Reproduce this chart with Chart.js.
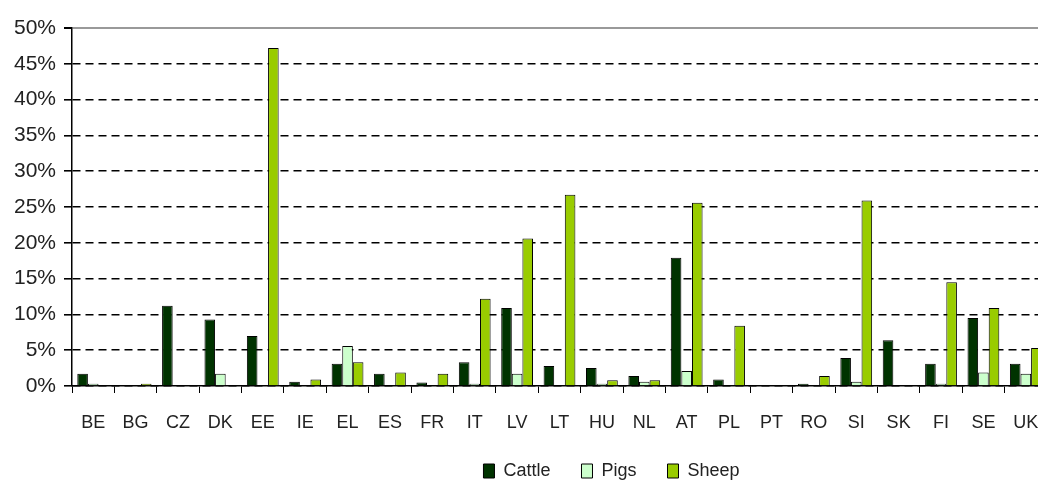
<!DOCTYPE html>
<html>
<head>
<meta charset="utf-8">
<script src="https://cdn.jsdelivr.net/npm/chart.js@4/dist/chart.umd.min.js"></script>
<style>
  html, body { margin:0; padding:0; background:#fff; overflow:hidden; }
  #wrap { width:1222px; height:483px; }
</style>
</head>
<body>
<div id="wrap"><canvas id="chart"></canvas></div>
<script>
// ---- Data (% share per country) ----
const countries = ["BE","BG","CZ","DK","EE","IE","EL","ES","FR","IT","LV","LT","HU","NL","AT","PL","PT","RO","SI","SK","FI","SE","UK"];
const cattle = [1.7, 0,   11.2, 9.3, 7.0, 0.6, 3.1, 1.7, 0.5, 3.3, 10.9, 2.8, 2.5, 1.4, 17.9, 0.9, 0, 0.3, 3.9, 6.4, 3.1, 9.5, 3.1];
const pigs   = [0.3, 0,   0,    1.7, 0,   0,   5.6, 0,   0,   0.3, 1.7,  0,   0.3, 0.6, 2.1,  0,   0, 0,   0.6, 0,   0.3, 1.9, 1.7];
const sheep  = [0,   0.3, 0,    0,   47.2,0.9, 3.3, 1.9, 1.7, 12.2,20.6, 26.7,0.8, 0.8, 25.6, 8.4, 0, 1.4, 25.9,0,   14.5,10.9,5.3];
const yTicks = [0,5,10,15,20,25,30,35,40,45,50];

const FONT = '"Liberation Sans", Arial, sans-serif';
const isTop = c => c.tick && c.tick.value === 50;

const mk = (label, data, color) => ({
  label, data, backgroundColor: color, borderColor: "#000", borderWidth: 1,
  borderSkipped: "bottom", categoryPercentage: 0.75, barPercentage: 1.0
});

// legend entries; a blank leading entry pushes the row to the right
function legendItems(chart) {
  const items = Chart.defaults.plugins.legend.labels.generateLabels(chart)
    .map((l, i, all) => ({ ...l, text: i < all.length - 1 ? l.text + "     " : l.text, lineWidth: 1, strokeStyle: "#000" }));
  const spacer = { text: " ".repeat(30), fillStyle: "rgba(0,0,0,0)", strokeStyle: "rgba(0,0,0,0)", lineWidth: 0, hidden: false, datasetIndex: -1 };
  return [spacer, ...items];
}

new Chart(document.getElementById("chart"), {
  type: "bar",
  data: {
    labels: countries,
    datasets: [
      mk("Cattle", cattle, "#003300"),
      mk("Pigs",   pigs,   "#ccffcc"),
      mk("Sheep",  sheep,  "#99cc00")
    ]
  },
  options: {
    responsive: true, maintainAspectRatio: false, animation: false,
    layout: { padding: { top: 28, left: 0, right: 175, bottom: -7 } },
    plugins: {
      tooltip: { enabled: false },
      legend: {
        position: "bottom",
        labels: { font: { family: FONT, size: 18 }, color: "#222", boxWidth: 11, boxHeight: 14, padding: 6, generateLabels: legendItems }
      }
    },
    scales: {
      x: {
        afterFit: s => { s.height = 70; },
        grid: { offset: true, drawOnChartArea: false, tickLength: 7, color: "#000", lineWidth: 1 },
        border: { color: "#000", width: 1.5 },
        ticks: { font: { family: FONT, size: 18 }, color: "#222", padding: 19, maxRotation: 0, autoSkip: false }
      },
      y: {
        min: 0, max: 50,
        afterBuildTicks: s => { s.ticks = yTicks.map(v => ({ value: v })); },
        afterFit: s => { s.width = 72; },
        grid: {
          color: c => isTop(c) ? "#999" : "#000",
          lineWidth: c => isTop(c) ? 2 : 1.6,
          tickColor: "#000", tickLength: 8, tickBorderDash: []
        },
        border: { color: "#000", width: 1.5, dash: c => isTop(c) ? [] : [8, 5] },
        ticks: { font: { family: FONT, size: 21 }, color: "#222", padding: 8, callback: v => v + "%" }
      }
    }
  }
});
</script>
</body>
</html>
